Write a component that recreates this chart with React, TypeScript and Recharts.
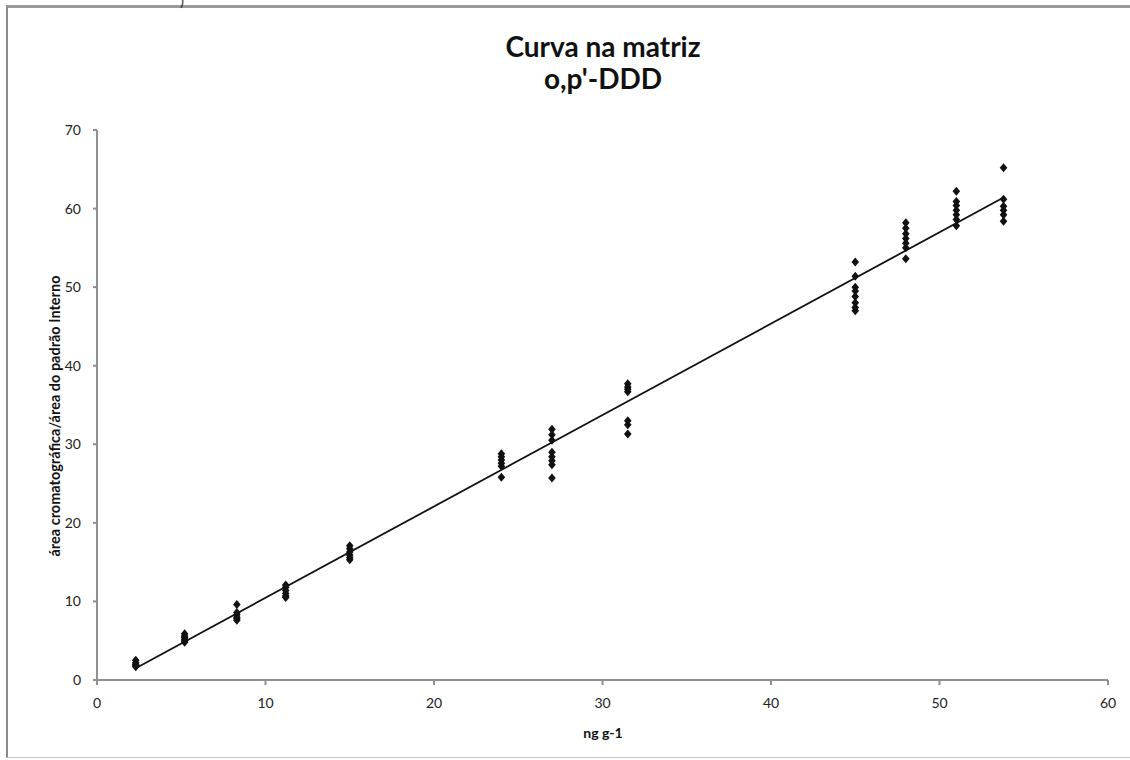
import React from "react";
import { ScatterChart, Scatter, XAxis, YAxis } from "recharts";

// concentration levels (ng g-1)
const levels = [2.3, 5.2, 8.3, 11.2, 15.0, 24.0, 27.0, 31.5, 45.0, 48.0, 51.0, 53.8];

// replicate responses per level (área cromatográfica / área do padrão interno)
const responses = [
  [2.5, 2.2, 2.0, 1.9, 1.8, 1.7],
  [5.9, 5.6, 5.4, 5.2, 5.0, 4.8],
  [9.6, 8.6, 8.3, 8.0, 7.8, 7.6],
  [12.1, 11.8, 11.4, 11.0, 10.7, 10.5],
  [17.1, 16.7, 16.3, 15.9, 15.6, 15.3],
  [28.8, 28.4, 28.0, 27.6, 27.2, 25.8],
  [31.9, 31.2, 30.5, 29.0, 28.4, 27.9, 27.4, 25.7],
  [37.7, 37.3, 37.0, 36.7, 33.0, 32.5, 31.3],
  [53.2, 51.4, 50.0, 49.5, 48.8, 48.0, 47.4, 47.0],
  [58.2, 57.5, 56.8, 56.2, 55.6, 55.0, 53.6],
  [62.2, 60.9, 60.4, 59.8, 59.2, 58.6, 57.8],
  [65.2, 61.2, 60.3, 59.8, 59.2, 58.4],
];

// linear trend line end points
const trendX = [2.3, 53.8];
const trendY = [1.5, 61.4];

const xTicks = [0, 10, 20, 30, 40, 50, 60];
const yTicks = [0, 10, 20, 30, 40, 50, 60, 70];

const points = levels.flatMap((x, i) => responses[i].map((y) => ({ x, y })));
const trend = trendX.map((x, i) => ({ x, y: trendY[i] }));

const font = "Lato, 'Open Sans', sans-serif";

const Diamond = (props: any) => {
  const { cx, cy } = props;
  return <path d={`M${cx},${cy - 4.5} L${cx + 3.8},${cy} L${cx},${cy + 4.5} L${cx - 3.8},${cy} Z`} fill="#111" />;
};

export default function App() {
  return (
    <div style={{ position: "absolute", left: 0, top: 0, width: 1130, height: 760, background: "#fff", overflow: "hidden", fontFamily: font }}>
      <div style={{ position: "absolute", left: 6, top: 5, width: 1200, height: 753, borderTop: "3px solid #9a9a9a", borderLeft: "2px solid #8a8a8a", borderBottom: "1px solid #c8c8c8", boxSizing: "border-box" }} />
      <div style={{ position: "absolute", left: 180, top: -9, fontSize: 15, color: "#333" }}>)</div>
      <div style={{ position: "absolute", left: 0, width: 1206, top: 30, textAlign: "center", fontWeight: 700, fontSize: 28, lineHeight: "32px", color: "#111" }}>
        Curva na matriz
        <br />
        o,p'-DDD
      </div>
      <ScatterChart width={1130} height={760} margin={{ top: 130, right: 22, bottom: 50, left: 37 }} style={{ position: "absolute", left: 0, top: 0 }}>
        <XAxis
          type="number"
          dataKey="x"
          domain={[0, 60]}
          ticks={xTicks}
          interval={0}
          allowDataOverflow
          height={30}
          stroke="#8f8f8f"
          strokeWidth={2}
          tickSize={5}
          tickMargin={13}
          tick={{ fill: "#222", fontSize: 14, fontFamily: font }}
        />
        <YAxis
          type="number"
          dataKey="y"
          domain={[0, 70]}
          ticks={yTicks}
          interval={0}
          allowDataOverflow
          width={60}
          stroke="#8f8f8f"
          strokeWidth={2}
          tickSize={4}
          tickMargin={12}
          tick={{ fill: "#222", fontSize: 14, fontFamily: font }}
        />
        <Scatter data={trend} line={{ stroke: "#111", strokeWidth: 1.8 }} shape={() => null} isAnimationActive={false} />
        <Scatter data={points} shape={<Diamond />} isAnimationActive={false} />
      </ScatterChart>
      <div style={{ position: "absolute", left: 54, top: 416, transform: "translate(-50%, -50%) rotate(-90deg)", whiteSpace: "nowrap", fontWeight: 700, fontSize: 14.5, color: "#111" }}>
        área cromatográfica/área do padrão Interno
      </div>
      <div style={{ position: "absolute", left: 603, top: 732, transform: "translate(-50%, -50%)", whiteSpace: "nowrap", fontWeight: 700, fontSize: 14, color: "#111" }}>
        ng g-1
      </div>
    </div>
  );
}
